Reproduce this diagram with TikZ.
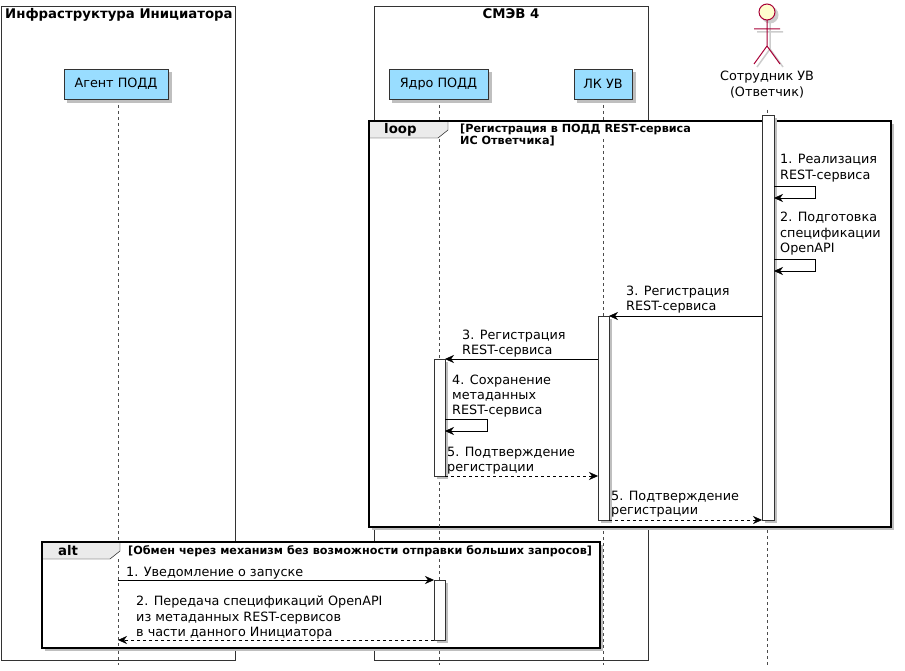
\documentclass[tikz,border=0pt]{standalone}
\usepackage{fontspec}
\setmainfont{DejaVu Sans}
\usetikzlibrary{arrows.meta}
\definecolor{part}{HTML}{99DDFF}
\definecolor{actfill}{HTML}{FEFECE}
\definecolor{actline}{HTML}{A80036}
\tikzset{
  x=1pt,y=-1pt,
  txt/.style={anchor=base west,inner sep=0,font=\fontsize{12.8}{15}\selectfont},
  ttl/.style={inner sep=0,font=\bfseries\fontsize{13.3}{15}\selectfont},
  cond/.style={anchor=north west,inner sep=0,align=left,font=\bfseries\fontsize{11.2}{12}\selectfont},
  part/.style={draw=black!80,fill=part,minimum height=30pt,inner sep=4pt,font=\fontsize{12.8}{15}\selectfont},
  shadow/.style={fill=black!25,draw=none},
  life/.style={dashed,black!70,thin},
  act/.style={draw=black!80,fill=white},
  msg/.style={-{Stealth[length=9pt,width=8pt]},thin},
  ret/.style={msg,dashed},
  frame/.style={draw,line width=1.5pt},
}
\begin{document}
\begin{tikzpicture}
\useasboundingbox (0,0) rectangle (905,671);
% boxes
\draw[black!80] (1,6) rectangle (235,660);
\node[ttl,anchor=base west] (t1) at (5,19) {Инфраструктура Инициатора};
\draw[black!80] (374,6) rectangle (648,660);
\node[ttl,anchor=base] (t2) at (511,19) {СМЭВ 4};
% lifelines
\draw[life] (118,99) -- (118,665);
\draw[life] (439,99) -- (439,665);
\draw[life] (603,99) -- (603,665);
\draw[life] (767,110) -- (767,665);
% participants
\fill[shadow] (67,72) rectangle (172,103);
\node[part,minimum width=104pt] (agent) at (116,84) {Агент ПОДД};
\fill[shadow] (392,72) rectangle (492,103);
\node[part,minimum width=99pt] (core) at (438.5,84) {Ядро ПОДД};
\fill[shadow] (577,72) rectangle (636,103);
\node[part,minimum width=58pt] (lk) at (603,84) {ЛК УВ};
% actor
\begin{scope}[shift={(3,3)},black!20,line width=1.5pt]
\fill (767,12) circle (8.5);
\draw (767,20) -- (767,46) (754,29) -- (780,29) (767,46) -- (754,64) (767,46) -- (780,64);
\end{scope}
\draw[actline,fill=actfill,line width=1pt] (767,12) circle (8);
\draw[actline,line width=1pt] (767,20) -- (767,46) (754,29) -- (780,29) (767,46) -- (754,64) (767,46) -- (780,64);
\node[anchor=north,inner sep=0,align=center,font=\fontsize{12.8}{15.5}\selectfont] (actor) at (767,71) {Сотрудник УВ\\(Ответчик)};
% loop frame
\fill[shadow] (372,124) rectangle (894,530);
\draw[frame,fill=white] (369,121) rectangle (891,527);
\draw[thin,fill=black!8] (369,121) -- (448,121) -- (448,130) -- (438,138) -- (369,138) -- cycle;
\draw[frame] (369,121) rectangle (891,527);
\node[ttl,anchor=base west] (loopl) at (384,134) {loop};
\node[cond] (loopc) at (460,124) {[Регистрация в ПОДД REST-сервиса\\ИС Ответчика]};
\draw[life] (439,139) -- (439,359) (439,476) -- (439,527);
\draw[life] (603,139) -- (603,316);
\draw[life] (767,110) -- (767,121);
% activations
\fill[shadow] (765,118) rectangle (777,523);
\draw[act] (762,115) rectangle (774,520);
\fill[shadow] (601,319) rectangle (612,523);
\draw[act] (598,316) rectangle (609,520);
\fill[shadow] (437,362) rectangle (448,479);
\draw[act] (434,359) rectangle (445,476);
% messages
\node[txt] (m1) at (780,164) {1. Реализация};
\node[txt] (m1b) at (780,180) {REST-сервиса};
\draw[msg] (774,186) -- (815,186) -- (815,198) -- (774,198);
\node[txt] (m2) at (780,222) {2. Подготовка};
\node[txt] (m2b) at (780,238) {спецификации};
\node[txt] (m2c) at (780,253) {OpenAPI};
\draw[msg] (774,259) -- (815,259) -- (815,271) -- (774,271);
\node[txt] (m3) at (626,295) {3. Регистрация};
\node[txt] (m3b) at (626,310) {REST-сервиса};
\draw[msg] (762,316) -- (609,316);
\node[txt] (m4) at (462,339) {3. Регистрация};
\node[txt] (m4b) at (462,354) {REST-сервиса};
\draw[msg] (598,359) -- (445,359);
\node[txt] (m5) at (452,384) {4. Сохранение};
\node[txt] (m5b) at (452,399) {метаданных};
\node[txt] (m5c) at (452,414) {REST-сервиса};
\draw[msg] (445,419) -- (487,419) -- (487,431) -- (445,431);
\node[txt] (m6) at (447,456) {5. Подтверждение};
\node[txt] (m6b) at (447,471) {регистрации};
\draw[ret] (445,476) -- (598,476);
\node[txt] (m7) at (611,500) {5. Подтверждение};
\node[txt] (m7b) at (611,514) {регистрации};
\draw[ret] (609,520) -- (762,520);
% alt frame
\fill[shadow] (45,545) rectangle (603,651);
\draw[frame,fill=white] (42,542) rectangle (600,648);
\draw[thin,fill=black!8] (42,542) -- (120,542) -- (120,551) -- (110,559) -- (42,559) -- cycle;
\draw[frame] (42,542) rectangle (600,648);
\node[ttl,anchor=base west] (altl) at (58,555) {alt};
\node[cond] (altc) at (128,545) {[Обмен через механизм без возможности отправки больших запросов]};
\draw[life] (118,559) -- (118,648);
\draw[life] (439,559) -- (439,580);
\fill[shadow] (437,583) rectangle (448,643);
\draw[act] (434,580) rectangle (445,640);
\node[txt] (a1) at (126,576) {1. Уведомление о запуске};
\draw[msg] (118,580) -- (434,580);
\node[txt] (a2) at (136,605) {2. Передача спецификаций OpenAPI};
\node[txt] (a2b) at (136,621) {из метаданных REST-сервисов};
\node[txt] (a2c) at (136,636) {в части данного Инициатора};
\draw[ret] (434,640) -- (118,640);
\end{tikzpicture}
\end{document}
